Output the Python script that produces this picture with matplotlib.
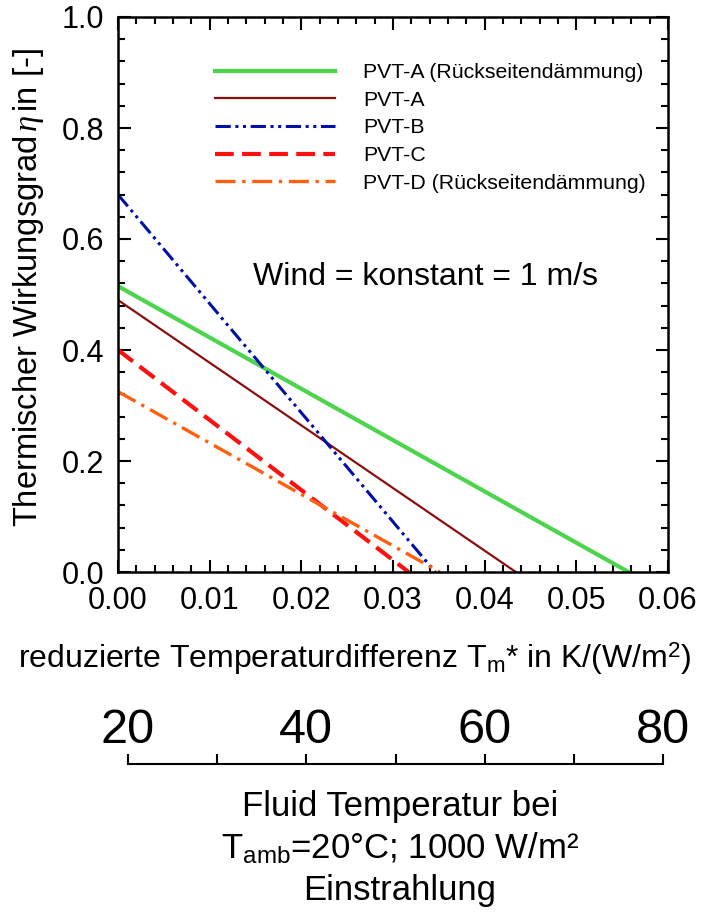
import numpy as np
import matplotlib
matplotlib.use('agg')
import matplotlib.pyplot as plt
from matplotlib.ticker import MultipleLocator

plt.rcParams['font.family'] = ['Liberation Sans', 'DejaVu Sans']
plt.rcParams['mathtext.fontset'] = 'custom'
plt.rcParams['mathtext.rm'] = 'Liberation Sans'
plt.rcParams['mathtext.it'] = 'Liberation Serif:italic'

# series: (label, eta at Tm*=0, Tm* where eta reaches 0)
labels = ['PVT-A (Rückseitendämmung)', 'PVT-A', 'PVT-B', 'PVT-C',
          'PVT-D (Rückseitendämmung)']
eta0 = [0.515, 0.49, 0.68, 0.40, 0.325]
x_zero = [0.0557, 0.0434, 0.0346, 0.0317, 0.0351]
colors = ['#4cd44c', '#8b0f0f', '#0010a8', '#ff1010', '#ff6010']
widths = [3.0, 1.6, 2.2, 3.0, 2.4]
styles = ['-', '-', (0, (5, 1.5, 1, 1.5, 1, 1.5)), (0, (4.5, 2)),
          (0, (6, 2, 1, 2))]

temp_ticks = [20, 40, 60, 80]

W, H = 706, 913
fig = plt.figure(figsize=(W / 100, H / 100), dpi=100)
ax = fig.add_axes([118 / W, 1 - 572 / H, 550 / W, 555 / H])

for lab, e0, xz, c, lw, ls in zip(labels, eta0, x_zero, colors, widths, styles):
    ax.plot([0, xz], [e0, 0], color=c, lw=lw, ls=ls, label=lab)

ax.set_xlim(0, 0.06)
ax.set_ylim(0, 1.0)
ax.xaxis.set_major_locator(MultipleLocator(0.01))
ax.xaxis.set_minor_locator(MultipleLocator(0.002))
ax.yaxis.set_major_locator(MultipleLocator(0.2))
ax.yaxis.set_minor_locator(MultipleLocator(0.04))
ax.xaxis.set_major_formatter(plt.FormatStrFormatter('%.2f'))
ax.yaxis.set_major_formatter(plt.FormatStrFormatter('%.1f'))
ax.tick_params(which='both', direction='in', top=True, right=True,
               width=1.5, labelsize=22)
ax.tick_params(which='major', length=9, pad=10)
ax.tick_params(which='minor', length=5)
for s in ax.spines.values():
    s.set_linewidth(1.8)

ax.set_xlabel(r'reduzierte Temperaturdifferenz T$_\mathregular{m}$* in K/(W/m$^\mathregular{2}$)',
              fontsize=23)
ax.xaxis.set_label_coords(0.43, -0.122)
ax.set_ylabel(r'Thermischer Wirkungsgrad$\,\mathit{\eta}\,$in [-]', fontsize=23.5)
ax.yaxis.set_label_coords(-0.13, 0.513)

ax.text(0.0147, 0.517, 'Wind = konstant = 1 m/s', fontsize=23)

leg = ax.legend(loc='upper left', frameon=False, fontsize=15.3,
                handlelength=5.65, handletextpad=1.32, labelspacing=0.41,
                borderpad=0, borderaxespad=0,
                bbox_to_anchor=(215 / W, 1 - 63 / H),
                bbox_transform=fig.transFigure)

# secondary scale: fluid temperature
ax2 = fig.add_axes([128 / W, 1 - 764 / H, 535 / W, 0.0001])
ax2.set_xlim(20, 80)
for k in ['top', 'left', 'right']:
    ax2.spines[k].set_visible(False)
ax2.spines['bottom'].set_linewidth(1.5)
ax2.set_yticks([])
ax2.set_xticks(temp_ticks)
ax2.xaxis.set_minor_locator(MultipleLocator(10))
ax2.tick_params(which='both', direction='in', length=7, width=1.5,
                bottom=True, top=False, labelbottom=False, labeltop=True,
                labelsize=35, pad=8)

fig.text(400 / W, 1 - 806 / H, 'Fluid Temperatur bei', fontsize=25,
         ha='center', va='center')
fig.text(400 / W, 1 - 848 / H, r'T$_\mathregular{amb}$=20°C; 1000 W/m²',
         fontsize=25, ha='center', va='center')
fig.text(400 / W, 1 - 890 / H, 'Einstrahlung', fontsize=25,
         ha='center', va='center')

fig.savefig('out.png', dpi=100)
